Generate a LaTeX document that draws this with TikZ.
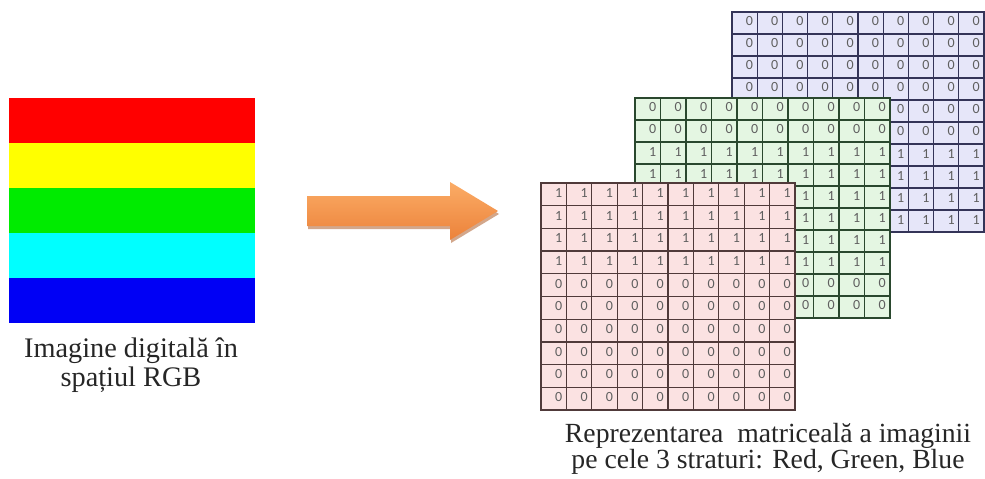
\documentclass[tikz,border=0pt]{standalone}
\usepackage{fontspec}
\setmainfont{Liberation Serif}
\newfontfamily\digitfont{Carlito}
\usetikzlibrary{calc}
\definecolor{redfill}{RGB}{251,226,226}
\definecolor{redline}{RGB}{80,58,58}
\definecolor{greenfill}{RGB}{228,246,226}
\definecolor{greenline}{RGB}{42,72,46}
\definecolor{bluefill}{RGB}{230,230,249}
\definecolor{blueline}{RGB}{52,52,88}
\definecolor{digitgray}{RGB}{95,95,95}
\definecolor{arrowtop}{RGB}{251,172,102}
\definecolor{arrowbot}{RGB}{236,130,58}
\definecolor{arrowshadow}{RGB}{175,95,45}
\tikzset{
  cellbox/.style={rectangle, inner sep=0pt, outer sep=0pt, anchor=north west, line width=1.3pt},
  digit/.style={anchor=east, inner sep=0pt, font=\digitfont\fontsize{14}{14}\selectfont, text=digitgray},
  lbl/.style={align=center, inner sep=0pt, font=\fontsize{28.3}{29}\selectfont, text=black!85},
  lblb/.style={align=center, inner sep=0pt, font=\fontsize{27.7}{26}\selectfont, text=black!85},
  stripe/.style={draw=none, inner sep=0pt, outer sep=0pt, anchor=north west, minimum width=246pt, minimum height=45pt}
}
\begin{document}
\begin{tikzpicture}[x=1pt,y=-1pt]
\useasboundingbox (0,0) rectangle (985,479);
\fill[white] (0,0) rectangle (985,479);

% RGB image
\node[stripe, fill={rgb,255:red,255;green,0;blue,0}]   (s1) at (9,98)  {};
\node[stripe, fill={rgb,255:red,255;green,255;blue,0}] (s2) at (9,143) {};
\node[stripe, fill={rgb,255:red,0;green,235;blue,0}]   (s3) at (9,188) {};
\node[stripe, fill={rgb,255:red,0;green,255;blue,255}] (s4) at (9,233) {};
\node[stripe, fill={rgb,255:red,0;green,0;blue,245}]   (s5) at (9,278) {};
\node[lbl, anchor=north] (imgtxt) at (131,338) {Imagine digitală în\\spațiul RGB};

% arrow
\fill[arrowshadow, opacity=0.55] (308,199) -- (451,199) -- (451,185) -- (499,214) -- (451,243) -- (451,229) -- (308,229) -- cycle;
\shade[top color=arrowtop, bottom color=arrowbot] (307,196) -- (450,196) -- (450,182) -- (498,211) -- (450,240) -- (450,226) -- (307,226) -- cycle;

% blue layer
\foreach \r in {1,...,10}{
  \foreach \c in {1,...,10}{
    \pgfmathtruncatemacro{\v}{(\r>6)}
    \node[cellbox, fill=bluefill, draw=blueline, minimum width=25.2pt, minimum height=22pt]
      (b-\r-\c) at ({732+(\c-1)*25.2},{12+(\r-1)*22}) {};
    \node[digit] (bd-\r-\c) at ($(b-\r-\c.east)+(-4,-1.5)$) {\v};
  }
}
% green layer
\foreach \r in {1,...,10}{
  \foreach \c in {1,...,10}{
    \pgfmathtruncatemacro{\v}{(\r>2)&&(\r<9)}
    \node[cellbox, fill=greenfill, draw=greenline, minimum width=25.5pt, minimum height=22pt]
      (g-\r-\c) at ({635+(\c-1)*25.5},{98+(\r-1)*22}) {};
    \node[digit] (gd-\r-\c) at ($(g-\r-\c.east)+(-4,-1.5)$) {\v};
  }
}
% red layer
\foreach \r in {1,...,10}{
  \foreach \c in {1,...,10}{
    \pgfmathtruncatemacro{\v}{(\r<5)}
    \node[cellbox, fill=redfill, draw=redline, minimum width=25.4pt, minimum height=22.7pt]
      (r-\r-\c) at ({541+(\c-1)*25.4},{183+(\r-1)*22.7}) {};
    \node[digit] (rd-\r-\c) at ($(r-\r-\c.east)+(-4,-1.5)$) {\v};
  }
}

\node[lblb, anchor=north] (mattxt) at (768,423) {Reprezentarea~ matriceală a imaginii\\pe cele 3 straturi: Red, Green, Blue};
\end{tikzpicture}
\end{document}
